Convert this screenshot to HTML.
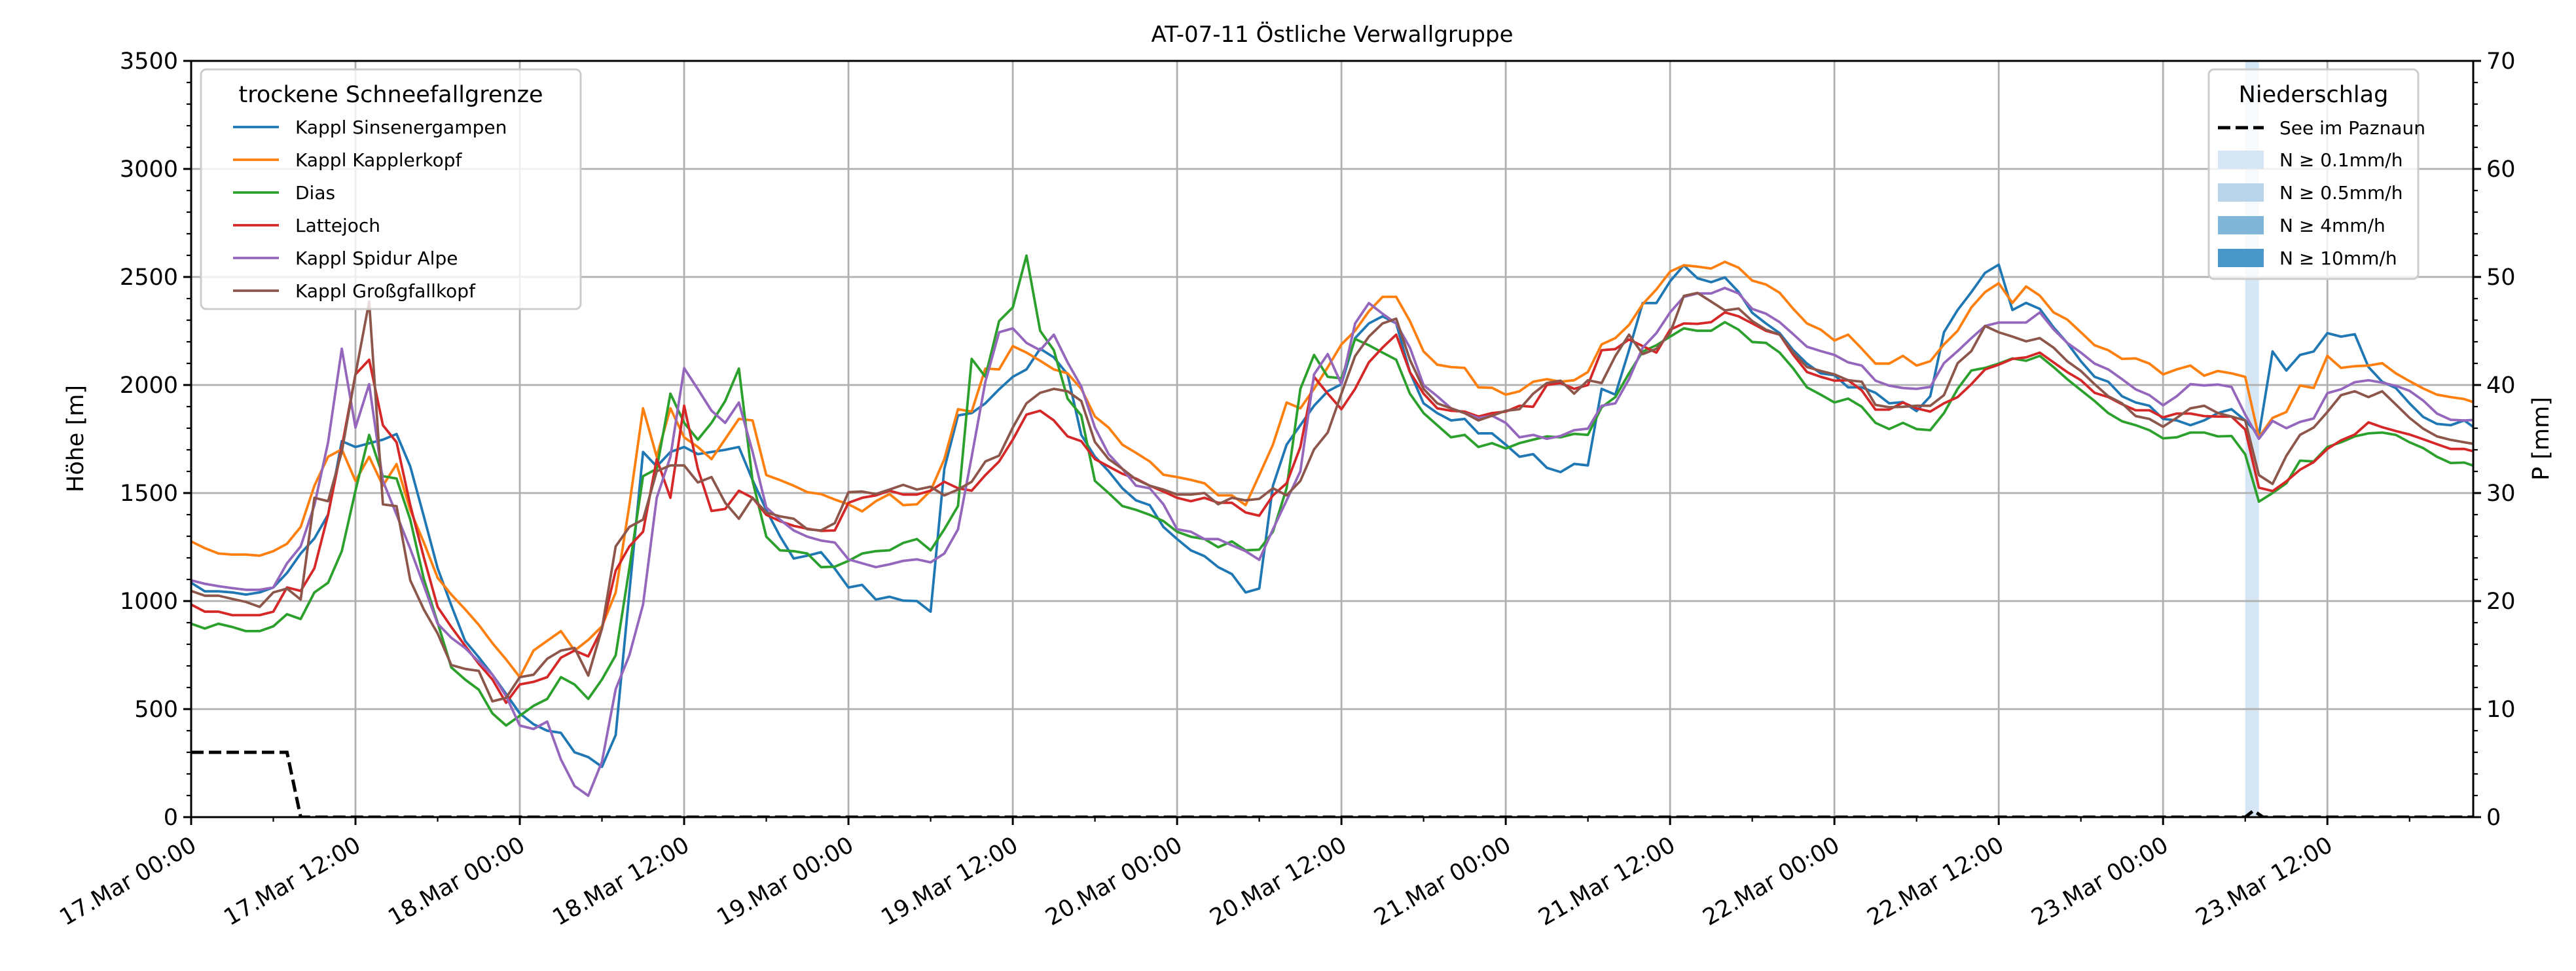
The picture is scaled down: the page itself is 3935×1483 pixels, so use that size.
<!DOCTYPE html>
<html><head><meta charset="utf-8"><style>
html,body{margin:0;padding:0;background:#fff;}
svg{display:block;font-family:"DejaVu Sans","Liberation Sans",sans-serif;}
</style></head><body>
<svg id="chart" width="3935" height="1483" viewBox="0 0 3935 1483" xmlns="http://www.w3.org/2000/svg">
<text x="2035" y="64" font-size="34" text-anchor="middle">AT-07-11 Östliche Verwallgruppe</text>
<text transform="translate(127,670) rotate(-90)" font-size="35" text-anchor="middle">Höhe [m]</text>
<text transform="translate(3893,670) rotate(-90)" font-size="35" text-anchor="middle">P [mm]</text>
<defs><clipPath id="plotclip"><rect x="292" y="93" width="3486" height="1155"/></clipPath></defs>
<g id="band" clip-path="url(#plotclip)"></g>
<g id="grid"></g>
<g id="series" clip-path="url(#plotclip)"></g>
<g id="axes"></g>
<g id="legends"></g>
</svg>
<script>
const hourStart = 0, hourEnd = 166.65;
const yTickLabels = ["0","500","1000","1500","2000","2500","3000","3500"];
const y2TickLabels = ["0","10","20","30","40","50","60","70"];
const xTickLabels = ["17.Mar 00:00","17.Mar 12:00","18.Mar 00:00","18.Mar 12:00","19.Mar 00:00","19.Mar 12:00","20.Mar 00:00","20.Mar 12:00","21.Mar 00:00","21.Mar 12:00","22.Mar 00:00","22.Mar 12:00","23.Mar 00:00","23.Mar 12:00"];
const seriesNames = ["Kappl Sinsenergampen","Kappl Kapplerkopf","Dias","Lattejoch","Kappl Spidur Alpe","Kappl Großgfallkopf"];
const seriesColors = ["#1f77b4","#ff7f0e","#2ca02c","#d62728","#9467bd","#8c564b"];
const sinsenergampen = [1085,1045,1045,1040,1030,1040,1063,1130,1220,1290,1400,1740,1713,1730,1747,1773,1623,1390,1152,980,816,740,659,570,480,430,400,390,300,278,233,380,1040,1690,1623,1690,1713,
1680,1690,1700,1713,1560,1421,1300,1197,1210,1226,1150,1063,1075,1007,1020,1002,1000,951,1612,1859,1870,1915,1980,2038,2072,2168,
2128,2049,1769,1668,1601,1522,1466,1444,1343,1287,1235,1208,1157,1125,1040,1058,1534,1724,1814,1904,1971,2004,2217,2285,2318,2285,
2060,1915,1870,1836,1843,1776,1776,1724,1668,1680,1617,1597,1635,1628,1982,1955,2161,2379,2379,2480,2554,2494,2476,2498,2431,2334,2285,
2240,2161,2099,2054,2045,1989,1989,1964,1915,1921,1879,1948,2244,2347,2430,2519,2557,2347,2380,2352,2267,2195,2110,2038,2015,1948,
1919,1904,1843,1836,1814,1836,1870,1888,1836,1769,2155,2067,2139,2155,2240,2224,2235,2083,2015,1986,1915,1852,1820,1814,1836,1790];
const kapplerkopf = [1276,1245,1220,1215,1215,1210,1231,1265,1343,1534,1668,1702,1556,1668,1534,1634,1421,1270,1108,1030,962,890,805,730,648,771,816,861,771,820,883,1040,1444,1892,1668,1892,1758,
1713,1657,1750,1843,1836,1583,1560,1534,1504,1495,1470,1448,1415,1462,1495,1444,1448,1511,1657,1888,1877,2076,2072,2180,2150,2112,
2072,2054,1982,1854,1803,1724,1686,1646,1585,1574,1561,1545,1489,1489,1444,1583,1724,1919,1892,1982,2082,2188,2251,2341,2408,2408,
2296,2155,2094,2083,2079,1989,1987,1955,1971,2015,2027,2015,2022,2060,2188,2217,2278,2374,2442,2525,2554,2548,2539,2570,2543,2483,2465,
2427,2352,2285,2256,2206,2233,2168,2099,2099,2135,2090,2110,2188,2251,2359,2430,2471,2380,2456,2414,2336,2303,2244,2184,2161,2121,
2123,2099,2049,2072,2090,2043,2065,2054,2038,1758,1848,1875,1998,1986,2135,2079,2087,2090,2101,2054,2018,1984,1955,1944,1935,1913];
const dias = [895,873,895,880,861,861,883,939,917,1040,1085,1231,1511,1769,1578,1567,1377,1100,900,693,637,590,480,424,469,515,547,648,614,547,637,749,1152,1578,1612,1960,1825,
1747,1825,1926,2076,1556,1298,1235,1231,1220,1157,1159,1186,1220,1231,1235,1269,1287,1235,1332,1440,2121,2038,2296,2359,2599,2251,
2161,1937,1859,1556,1500,1440,1422,1399,1370,1321,1298,1287,1249,1276,1235,1238,1321,1522,1982,2139,2038,2031,2213,2184,2150,2117,
1960,1870,1814,1758,1769,1713,1731,1706,1731,1747,1762,1758,1774,1769,1897,1944,2054,2155,2184,2224,2262,2251,2251,2291,2256,2199,2195,
2150,2076,1989,1955,1919,1937,1899,1825,1796,1825,1796,1791,1870,1982,2067,2079,2099,2123,2112,2135,2083,2027,1976,1926,1870,1832,
1814,1791,1753,1758,1780,1780,1762,1764,1679,1460,1500,1545,1650,1646,1713,1735,1762,1776,1780,1769,1735,1708,1668,1639,1641,1619];
const lattejoch = [984,951,951,935,935,935,951,1063,1047,1152,1400,1713,2049,2117,1814,1735,1444,1200,973,880,794,710,637,529,614,626,648,738,771,744,872,1141,1253,1321,1657,1478,1904,
1612,1417,1426,1511,1478,1399,1370,1348,1335,1325,1327,1455,1478,1489,1511,1493,1493,1511,1552,1522,1511,1583,1646,1747,1863,1881,
1836,1762,1740,1657,1623,1589,1567,1534,1507,1478,1462,1478,1455,1455,1410,1395,1489,1545,1713,2038,1960,1888,1982,2105,2173,2233,
2060,1960,1892,1881,1877,1854,1870,1877,1904,1899,2000,2009,1982,2000,2161,2166,2211,2180,2150,2256,2285,2283,2291,2336,2318,2285,2251,
2233,2139,2060,2038,2020,2022,1975,1886,1886,1919,1892,1877,1915,1944,2004,2072,2094,2121,2128,2150,2105,2060,2022,1964,1944,1911,
1883,1883,1850,1868,1868,1856,1854,1854,1794,1525,1509,1554,1608,1643,1704,1744,1771,1827,1805,1787,1771,1749,1726,1704,1704,1688];
const spidurAlpe = [1096,1080,1069,1060,1052,1052,1063,1175,1253,1444,1735,2168,1803,2004,1556,1400,1242,1070,895,830,783,720,659,560,424,408,442,267,144,99,256,592,749,984,1478,1668,2078,
1981,1881,1825,1919,1691,1433,1377,1327,1298,1280,1271,1193,1175,1157,1170,1186,1193,1179,1220,1332,1668,2015,2244,2262,2195,2161,
2233,2105,1993,1803,1680,1612,1534,1522,1448,1332,1321,1287,1287,1258,1231,1191,1332,1466,1601,2049,2143,2004,2285,2379,2330,2285,
2173,1999,1948,1892,1870,1847,1858,1825,1758,1769,1751,1764,1791,1798,1904,1915,2027,2173,2240,2336,2408,2424,2424,2449,2424,2352,2330,
2291,2235,2177,2157,2139,2105,2090,2020,1997,1986,1982,1991,2101,2157,2217,2273,2289,2289,2289,2336,2258,2195,2150,2099,2072,2027,
1980,1953,1906,1948,2004,1998,2002,1991,1863,1751,1834,1800,1829,1845,1962,1980,2013,2022,2011,1996,1973,1928,1868,1839,1836,1839];
const grossgfallkopf = [1047,1025,1025,1010,996,973,1040,1058,1007,1478,1462,1691,2049,2386,1448,1439,1096,960,850,704,686,677,536,552,648,659,733,771,783,655,872,1253,1343,1377,1601,1628,1628,
1549,1574,1455,1381,1478,1410,1392,1381,1332,1327,1361,1504,1507,1495,1516,1538,1516,1529,1489,1516,1552,1646,1673,1803,1915,1964,
1982,1971,1926,1736,1657,1612,1563,1534,1516,1493,1493,1500,1448,1478,1466,1473,1522,1489,1556,1702,1780,1960,2134,2224,2285,2307,
2117,1982,1915,1892,1870,1836,1858,1881,1888,1960,2009,2020,1960,2022,2009,2134,2233,2143,2168,2240,2412,2426,2386,2345,2354,2296,2256,
2233,2150,2083,2065,2049,2022,2015,1908,1897,1899,1904,1904,1953,2101,2157,2273,2244,2224,2202,2217,2173,2110,2065,2004,1948,1915,
1856,1843,1807,1848,1892,1904,1870,1854,1836,1583,1542,1672,1769,1803,1875,1953,1971,1944,1971,1910,1848,1798,1762,1746,1735,1724];
const precipHours = [0,7,8,150,150.6,151.3,167];
const precipValues = [6,6,0,0,0.6,0,0];
const rainStartHours = [150];
const rainEndHours = [151];
const rainClassIndex = [0];
const rainClassLabels = ["N ≥ 0.1mm/h","N ≥ 0.5mm/h","N ≥ 4mm/h","N ≥ 10mm/h"];
const rainClassColors = ["#d6e6f4","#b8d4ea","#80b6d8","#4a97c9"];

const NS = "http://www.w3.org/2000/svg";
const L = 292, R = 3778, T = 93, B = 1248;
function xAt(h){ return L + (h - hourStart) / (hourEnd - hourStart) * (R - L); }
function yAt(v){ return B - v / 3500 * (B - T); }
function y2At(p){ return B - p / 70 * (B - T); }
function mk(tag, attrs, parent){ const e = document.createElementNS(NS, tag); for (const k in attrs) e.setAttribute(k, attrs[k]); parent.appendChild(e); return e; }
const gBand = document.getElementById('band'), gGrid = document.getElementById('grid'), gSer = document.getElementById('series'), gAx = document.getElementById('axes'), gLeg = document.getElementById('legends');

rainStartHours.forEach((s, i) => {
  const r = mk('rect', {x: xAt(s), y: T, width: xAt(rainEndHours[i]) - xAt(s), height: B - T, fill: rainClassColors[rainClassIndex[i]]}, gBand);
  
  
});
xTickLabels.forEach((lab, i) => {
  const x = xAt(i * 12);
  const g = mk('line', {x1: x, x2: x, y1: T, y2: B, stroke: '#b0b0b0', 'stroke-width': 2.8}, gGrid);
  
  
});
yTickLabels.forEach((lab) => {
  const y = yAt(+lab);
  const g = mk('line', {x1: L, x2: R, y1: y, y2: y, stroke: '#b0b0b0', 'stroke-width': 2.8}, gGrid);
  
  
});

const allSeries = [sinsenergampen, kapplerkopf, dias, lattejoch, spidurAlpe, grossgfallkopf];
allSeries.forEach((vals, si) => {
  const pts = vals.map((v, i) => xAt(i).toFixed(1) + ',' + yAt(v).toFixed(1)).join(' ');
  const p = mk('polyline', {points: pts, fill: 'none', stroke: seriesColors[si], 'stroke-width': 3.8, 'stroke-linejoin': 'round'}, gSer);
  
  
});
const pp = precipHours.map((h, i) => xAt(h).toFixed(1) + ',' + y2At(precipValues[i]).toFixed(1)).join(' ');
const pl = mk('polyline', {points: pp, fill: 'none', stroke: '#000', 'stroke-width': 5, 'stroke-dasharray': '19,8'}, gSer);



const fr = mk('rect', {x: L, y: T, width: R - L, height: B - T, fill: 'none', stroke: '#000', 'stroke-width': 3}, gAx);


for (let h = 0; h <= hourEnd; h += 6) {
  const x = xAt(h), major = (h % 12 === 0);
  mk('line', {x1: x, x2: x, y1: B, y2: B + (major ? 12 : 7), stroke: '#000', 'stroke-width': major ? 3 : 2.2}, gAx);
}
xTickLabels.forEach((lab, i) => {
  const x = xAt(i * 12);
  const t = mk('text', {transform: `translate(${x - 2},${B + 28}) rotate(-30)`, 'font-size': 35, 'text-anchor': 'end', 'dominant-baseline': 'hanging'}, gAx);
  t.textContent = lab;
  
  
});
for (let v = 0; v <= 3500; v += 100) {
  const y = yAt(v), major = (v % 500 === 0);
  mk('line', {x1: L - (major ? 12 : 7), x2: L, y1: y, y2: y, stroke: '#000', 'stroke-width': major ? 3 : 2.2}, gAx);
}
yTickLabels.forEach((lab) => {
  const t = mk('text', {x: L - 20, y: yAt(+lab) + 12, 'font-size': 35, 'text-anchor': 'end'}, gAx);
  t.textContent = lab;
  
  
});
for (let p = 0; p <= 70; p += 2) {
  const y = y2At(p), major = (p % 10 === 0);
  mk('line', {x1: R, x2: R + (major ? 12 : 7), y1: y, y2: y, stroke: '#000', 'stroke-width': major ? 3 : 2.2}, gAx);
}
y2TickLabels.forEach((lab) => {
  const t = mk('text', {x: R + 20, y: y2At(+lab) + 12, 'font-size': 35, 'text-anchor': 'start'}, gAx);
  t.textContent = lab;
  
  
});

const lb = mk('rect', {x: 307, y: 106, width: 580, height: 366, rx: 8, fill: 'rgba(255,255,255,0.8)', stroke: '#cccccc', 'stroke-width': 3}, gLeg);


const lt = mk('text', {x: 597, y: 156, 'font-size': 35, 'text-anchor': 'middle'}, gLeg);
lt.textContent = 'trockene Schneefallgrenze';


seriesNames.forEach((n, i) => {
  const y = 194 + i * 50;
  mk('line', {x1: 356, x2: 426, y1: y, y2: y, stroke: seriesColors[i], 'stroke-width': 3.8}, gLeg);
  const t = mk('text', {x: 451, y: y + 10, 'font-size': 28}, gLeg);
  t.textContent = n;
  
  
});
const rb = mk('rect', {x: 3374, y: 106, width: 320, height: 320, rx: 8, fill: 'rgba(255,255,255,0.8)', stroke: '#cccccc', 'stroke-width': 3}, gLeg);


const rt = mk('text', {x: 3534, y: 156, 'font-size': 35, 'text-anchor': 'middle'}, gLeg);
rt.textContent = 'Niederschlag';


mk('line', {x1: 3388, x2: 3458, y1: 195, y2: 195, stroke: '#000', 'stroke-width': 5, 'stroke-dasharray': '19,8'}, gLeg);
const pt = mk('text', {x: 3482, y: 205, 'font-size': 28}, gLeg);
pt.textContent = 'See im Paznaun';


rainClassLabels.forEach((lab, i) => {
  const y = 244 + i * 50;
  mk('rect', {x: 3388, y: y - 14, width: 70, height: 28, fill: rainClassColors[i]}, gLeg);
  const t = mk('text', {x: 3482, y: y + 10, 'font-size': 28}, gLeg);
  t.textContent = lab;
  
  
});
</script>
</body></html>
